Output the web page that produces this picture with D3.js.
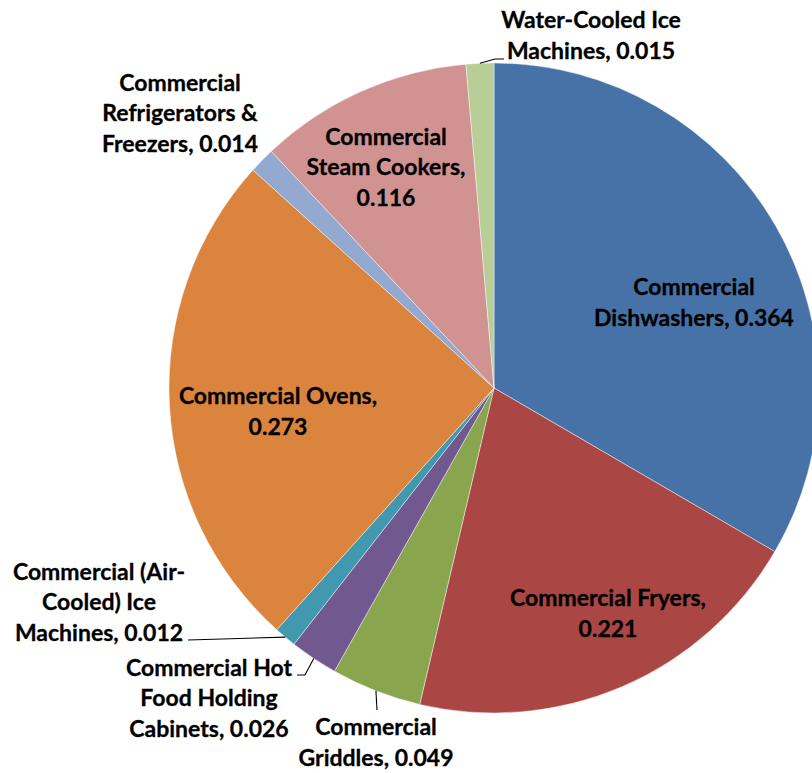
<!DOCTYPE html>
<html>
<head>
<meta charset="utf-8">
<script src="https://cdn.jsdelivr.net/npm/d3@7/dist/d3.min.js"></script>
<style>
  html, body { margin: 0; padding: 0; background: #fff; overflow: hidden; }
  svg { display: block; }
  .lbl { font-family: Lato, "Open Sans", sans-serif; font-weight: 700; fill: #000;
         stroke: #000; stroke-width: 0.3px; }
</style>
</head>
<body>
<svg id="chart" width="812" height="773"></svg>
<script>
// Equipment categories, clockwise from 12 o'clock
const categories = [
  "Commercial Dishwashers",
  "Commercial Fryers",
  "Commercial Griddles",
  "Commercial Hot Food Holding Cabinets",
  "Commercial (Air-Cooled) Ice Machines",
  "Commercial Ovens",
  "Commercial Refrigerators & Freezers",
  "Commercial Steam Cookers",
  "Water-Cooled Ice Machines"
];
const values = [0.364, 0.221, 0.049, 0.026, 0.012, 0.273, 0.014, 0.116, 0.015];
const colors = ["#4672A8", "#AA4643", "#89A54E", "#71588F", "#4198AF",
                "#DB843D", "#93A9CF", "#D19392", "#B9CD96"];

// Text lines of each data label (category name wrapped, then value)
const labelLines = [
  ["Commercial", "Dishwashers, 0.364"],
  ["Commercial Fryers,", "0.221"],
  ["Commercial", "Griddles, 0.049"],
  ["Commercial Hot", "Food Holding", "Cabinets, 0.026"],
  ["Commercial (Air-", "Cooled) Ice", "Machines, 0.012"],
  ["Commercial Ovens,", "0.273"],
  ["Commercial", "Refrigerators &", "Freezers, 0.014"],
  ["Commercial", "Steam Cookers,", "0.116"],
  ["Water-Cooled Ice", "Machines, 0.015"]
];

// ---- layout ----
const W = 812, H = 773;
const cx = 494, cy = 388, R = 325;
const fontSize = 23, lineH = 30.5;

// label block centres, as offsets from the pie centre
const labelPos = [
  [200, -86], [114, 225], [-118, 354], [-285, 310], [-395, 214],
  [-216, 23], [-314, -275], [-108, -221], [97, -353]
];
// leader lines: extra bend point and end point (offsets from centre), null = none
const leaders = [
  null, null,
  [[-117, 322]],
  [[-189, 287], [-197, 287]],
  [[-306, 252]],
  null, null, null,
  [[1, -329], [10, -329]]
];

const svg = d3.select("#chart");
const g = svg.append("g").attr("transform", `translate(${cx},${cy})`);

const pie = d3.pie().sort(null).value(d => d);
const arcs = pie(values);
const arc = d3.arc().innerRadius(0).outerRadius(R);

g.selectAll("path.slice")
  .data(arcs)
  .join("path")
  .attr("class", "slice")
  .attr("d", arc)
  .attr("fill", (d, i) => colors[i])
  .attr("stroke", "rgba(255,255,255,0.55)")
  .attr("stroke-width", 0.8);

// leader lines from the slice rim to its label
const polar = (a, r) => [r * Math.sin(a), -r * Math.cos(a)];
arcs.forEach((d, i) => {
  if (!leaders[i]) return;
  const mid = (d.startAngle + d.endAngle) / 2;
  const pts = [polar(mid, R)].concat(leaders[i]);
  g.append("path")
    .attr("d", d3.line()(pts))
    .attr("fill", "none")
    .attr("stroke", "#000")
    .attr("stroke-width", 1.1);
});

// data labels
const labels = g.selectAll("text.lbl")
  .data(arcs)
  .join("text")
  .attr("class", "lbl")
  .attr("text-anchor", "middle")
  .style("font-size", fontSize + "px");

labels.each(function(d, i) {
  const lines = labelLines[i];
  const [lx, ly] = labelPos[i];
  const top = ly - (lines.length - 1) * lineH / 2;
  d3.select(this).selectAll("tspan")
    .data(lines)
    .join("tspan")
    .attr("x", lx)
    .attr("y", (t, j) => top + j * lineH + fontSize * 0.36)
    .text(t => t);
});
</script>
</body>
</html>
